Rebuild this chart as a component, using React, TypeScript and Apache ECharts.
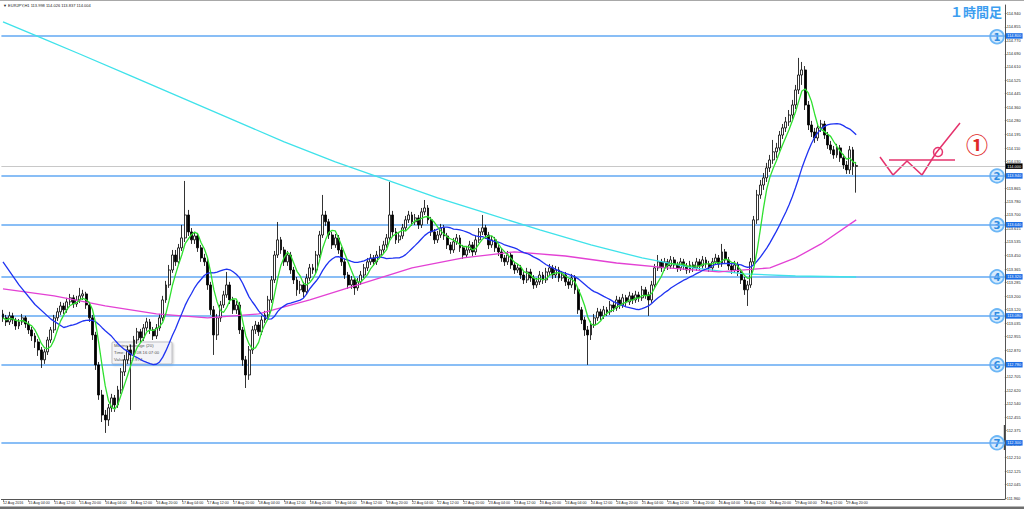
import React, { useEffect, useRef } from 'react';
import * as echarts from 'echarts';

// ---- time axis (H1 bars, weekends skipped) ----
const tradingDays = ['12 Aug', '15 Aug', '16 Aug', '17 Aug', '18 Aug', '19 Aug', '22 Aug', '23 Aug', '24 Aug', '25 Aug', '26 Aug', '29 Aug'];
const firstHour = 20;
const emptySlotsRight = 46;
const firstLabel = '12 Aug 2016';

// ---- OHLC ----
const opens = [
  113.092,113.068,113.043,113.080,113.055,113.018,113.043,113.068,113.030,112.994,
  112.957,112.920,112.871,112.810,112.859,112.932,112.994,113.068,113.105,113.141,
  113.117,113.166,113.191,113.153,113.178,113.203,113.215,113.147,113.068,112.963,
  112.779,112.594,112.471,112.441,112.515,112.576,112.533,112.625,112.736,112.810,
  112.871,112.840,112.932,112.982,112.945,113.006,113.043,112.994,112.957,113.006,
  113.068,113.178,113.270,113.362,113.454,113.412,113.498,113.559,113.700,113.596,
  113.547,113.571,113.498,113.436,113.412,113.270,113.117,112.963,113.068,113.147,
  113.209,113.270,113.178,113.117,113.147,112.994,112.810,112.717,112.871,112.994,
  113.024,112.982,113.055,113.086,113.178,113.301,113.454,113.547,113.485,113.412,
  113.454,113.362,113.301,113.240,113.270,113.228,113.313,113.375,113.362,113.454,
  113.577,113.700,113.658,113.577,113.516,113.559,113.485,113.412,113.331,113.270,
  113.301,113.252,113.289,113.331,113.375,113.412,113.436,113.412,113.454,113.485,
  113.516,113.559,113.700,113.596,113.547,113.571,113.621,113.670,113.700,113.658,
  113.682,113.639,113.719,113.743,113.670,113.596,113.547,113.577,113.621,113.571,
  113.516,113.485,113.535,113.559,113.498,113.454,113.485,113.516,113.473,113.547,
  113.596,113.621,113.577,113.516,113.547,113.498,113.473,113.436,113.412,113.454,
  113.393,113.362,113.375,113.331,113.301,113.350,113.313,113.270,113.289,113.331,
  113.301,113.350,113.375,113.331,113.362,113.313,113.331,113.289,113.270,113.313,
  113.240,113.117,113.055,112.994,112.963,113.024,113.068,113.105,113.080,113.117,
  113.105,113.147,113.129,113.178,113.147,113.191,113.166,113.203,113.178,113.209,
  113.191,113.240,113.209,113.178,113.270,113.375,113.412,113.375,113.412,113.387,
  113.424,113.393,113.375,113.412,113.387,113.362,113.393,113.375,113.412,113.387,
  113.424,113.399,113.375,113.412,113.436,113.399,113.473,113.424,113.387,113.362,
  113.393,113.350,113.301,113.240,113.270,113.412,113.670,113.823,113.884,113.928,
  113.989,114.038,114.088,114.112,114.191,114.235,114.272,114.314,114.376,114.468,
  114.560,114.591,114.376,114.253,114.210,114.173,114.235,114.259,114.191,114.130,
  114.100,114.069,114.112,114.051,114.007,113.977,114.100,113.998,
];
const highs = [
  113.117,113.086,113.105,113.099,113.068,113.061,113.092,113.080,113.049,113.012,
  112.975,112.938,112.889,112.877,112.951,113.012,113.086,113.129,113.166,113.160,
  113.191,113.215,113.209,113.203,113.252,113.240,113.228,113.166,113.086,112.982,
  112.797,112.625,112.502,112.539,112.601,112.594,112.650,112.760,112.840,112.895,
  112.902,112.957,113.006,113.000,113.030,113.068,113.061,113.012,113.030,113.092,
  113.203,113.295,113.393,113.485,113.485,113.522,113.639,113.909,113.731,113.620,
  113.596,113.590,113.516,113.461,113.430,113.289,113.141,113.092,113.172,113.234,
  113.350,113.289,113.197,113.172,113.166,113.012,112.834,112.895,113.018,113.049,
  113.043,113.080,113.111,113.203,113.325,113.479,113.657,113.565,113.504,113.479,
  113.473,113.381,113.319,113.295,113.289,113.338,113.399,113.399,113.479,113.602,
  113.823,113.725,113.676,113.596,113.583,113.577,113.504,113.430,113.350,113.325,
  113.319,113.313,113.356,113.399,113.436,113.461,113.454,113.479,113.510,113.541,
  113.583,113.903,113.725,113.620,113.596,113.645,113.694,113.725,113.719,113.706,
  113.700,113.743,113.792,113.761,113.688,113.614,113.602,113.645,113.639,113.590,
  113.534,113.559,113.583,113.577,113.516,113.510,113.541,113.534,113.571,113.620,
  113.700,113.639,113.596,113.571,113.565,113.516,113.491,113.454,113.479,113.473,
  113.412,113.399,113.393,113.350,113.375,113.369,113.331,113.313,113.356,113.350,
  113.375,113.399,113.393,113.387,113.381,113.356,113.350,113.307,113.338,113.331,
  113.258,113.135,113.074,113.018,113.049,113.092,113.129,113.123,113.141,113.135,
  113.172,113.166,113.203,113.197,113.215,113.209,113.228,113.221,113.234,113.228,
  113.264,113.258,113.228,113.295,113.399,113.454,113.430,113.436,113.430,113.448,
  113.442,113.412,113.436,113.430,113.405,113.418,113.412,113.436,113.430,113.448,
  113.442,113.418,113.436,113.461,113.454,113.522,113.491,113.442,113.405,113.418,
  113.412,113.369,113.319,113.295,113.436,113.694,113.854,113.915,113.958,114.020,
  114.069,114.161,114.143,114.216,114.259,114.302,114.345,114.407,114.499,114.665,
  114.640,114.615,114.400,114.278,114.235,114.259,114.284,114.278,114.210,114.155,
  114.124,114.137,114.130,114.075,114.032,114.124,114.118,114.026,
];
const lows = [
  113.043,113.018,113.024,113.030,112.994,112.999,113.024,113.006,112.969,112.926,
  112.883,112.834,112.760,112.785,112.840,112.914,112.975,113.049,113.086,113.092,
  113.099,113.147,113.129,113.135,113.160,113.178,113.123,113.043,112.932,112.748,
  112.564,112.428,112.361,112.404,112.490,112.490,112.515,112.601,112.711,112.785,
  112.502,112.822,112.908,112.920,112.926,112.988,112.969,112.932,112.938,112.988,
  113.049,113.160,113.252,113.344,113.387,113.393,113.479,113.534,113.571,113.522,
  113.522,113.473,113.412,113.387,113.240,113.086,112.840,112.932,113.043,113.129,
  113.191,113.153,113.092,113.092,112.969,112.773,112.637,112.687,112.846,112.969,
  112.957,112.963,113.037,113.068,113.160,113.282,113.436,113.461,113.387,113.387,
  113.338,113.276,113.203,113.215,113.191,113.209,113.295,113.338,113.344,113.436,
  113.559,113.633,113.553,113.491,113.498,113.461,113.387,113.307,113.246,113.246,
  113.209,113.234,113.270,113.313,113.356,113.393,113.387,113.393,113.436,113.467,
  113.498,113.541,113.571,113.522,113.528,113.553,113.602,113.651,113.633,113.639,
  113.614,113.620,113.700,113.645,113.571,113.522,113.528,113.559,113.547,113.491,
  113.461,113.467,113.516,113.473,113.430,113.436,113.467,113.448,113.454,113.528,
  113.577,113.553,113.491,113.498,113.473,113.448,113.412,113.387,113.393,113.369,
  113.338,113.344,113.307,113.276,113.282,113.289,113.246,113.252,113.270,113.276,
  113.282,113.331,113.307,113.313,113.289,113.295,113.264,113.246,113.252,113.215,
  113.092,113.030,112.957,112.779,112.932,113.006,113.049,113.055,113.061,113.080,
  113.086,113.105,113.111,113.123,113.129,113.141,113.147,113.153,113.160,113.166,
  113.172,113.185,113.080,113.160,113.252,113.356,113.350,113.356,113.362,113.369,
  113.369,113.350,113.356,113.362,113.338,113.344,113.350,113.356,113.362,113.369,
  113.375,113.350,113.356,113.393,113.375,113.381,113.399,113.362,113.338,113.344,
  113.325,113.276,113.209,113.141,113.252,113.393,113.645,113.799,113.854,113.903,
  113.964,114.014,114.051,114.094,114.167,114.210,114.247,114.290,114.351,114.443,
  114.499,114.345,114.222,114.179,114.143,114.155,114.210,114.167,114.106,114.075,
  114.045,114.051,114.026,113.983,113.952,113.952,113.946,113.837,
];
const closes = [
  113.068,113.043,113.080,113.055,113.018,113.043,113.068,113.030,112.994,112.957,
  112.920,112.871,112.810,112.859,112.932,112.994,113.068,113.105,113.141,113.117,
  113.166,113.191,113.153,113.178,113.203,113.215,113.147,113.068,112.963,112.779,
  112.594,112.471,112.441,112.515,112.576,112.533,112.625,112.736,112.810,112.871,
  112.840,112.932,112.982,112.945,113.006,113.043,112.994,112.957,113.006,113.068,
  113.178,113.270,113.362,113.454,113.412,113.498,113.559,113.700,113.596,113.547,
  113.571,113.498,113.436,113.412,113.270,113.117,112.963,113.068,113.147,113.209,
  113.270,113.178,113.117,113.147,112.994,112.810,112.717,112.871,112.994,113.024,
  112.982,113.055,113.086,113.178,113.301,113.454,113.547,113.485,113.412,113.454,
  113.362,113.301,113.240,113.270,113.228,113.313,113.375,113.362,113.454,113.577,
  113.700,113.658,113.577,113.516,113.559,113.485,113.412,113.331,113.270,113.301,
  113.252,113.289,113.331,113.375,113.412,113.436,113.412,113.454,113.485,113.516,
  113.559,113.700,113.596,113.547,113.571,113.621,113.670,113.700,113.658,113.682,
  113.639,113.719,113.743,113.670,113.596,113.547,113.577,113.621,113.571,113.516,
  113.485,113.535,113.559,113.498,113.454,113.485,113.516,113.473,113.547,113.596,
  113.621,113.577,113.516,113.547,113.498,113.473,113.436,113.412,113.454,113.393,
  113.362,113.375,113.331,113.301,113.350,113.313,113.270,113.289,113.331,113.301,
  113.350,113.375,113.331,113.362,113.313,113.331,113.289,113.270,113.313,113.240,
  113.117,113.055,112.994,112.963,113.024,113.068,113.105,113.080,113.117,113.105,
  113.147,113.129,113.178,113.147,113.191,113.166,113.203,113.178,113.209,113.191,
  113.240,113.209,113.178,113.270,113.375,113.412,113.375,113.412,113.387,113.424,
  113.393,113.375,113.412,113.387,113.362,113.393,113.375,113.412,113.387,113.424,
  113.399,113.375,113.412,113.436,113.399,113.473,113.424,113.387,113.362,113.393,
  113.350,113.301,113.240,113.270,113.412,113.670,113.823,113.884,113.928,113.989,
  114.038,114.088,114.112,114.191,114.235,114.272,114.314,114.376,114.468,114.560,
  114.591,114.376,114.253,114.210,114.173,114.235,114.259,114.191,114.130,114.100,
  114.069,114.112,114.051,114.007,113.977,114.100,113.998,114.004,
];

// ---- moving averages that need history before the window ----
const ma20LeadIn: [number, number][] = [[0, 113.412], [5, 113.27], [10, 113.15], [15, 113.06]];
const ma20Period = 20;
const maFastPeriod = 5;
const ma75Read: [number, number][] = [
  [0, 113.246], [16, 113.203], [32, 113.141], [48, 113.092], [64, 113.068], [80, 113.092],
  [96, 113.178], [112, 113.276], [128, 113.375], [144, 113.436], [160, 113.473], [176, 113.448],
  [192, 113.405], [208, 113.375], [224, 113.350], [240, 113.375], [248, 113.436], [256, 113.522], [267, 113.670],
];
const ma200Read: [number, number][] = [
  [0, 114.886], [12, 114.788], [24, 114.689], [40, 114.554], [56, 114.419], [72, 114.284],
  [88, 114.149], [104, 114.026], [120, 113.915], [136, 113.805], [152, 113.706], [168, 113.608],
  [184, 113.516], [200, 113.436], [216, 113.375], [232, 113.338], [248, 113.325], [267, 113.319],
];

// ---- horizontal levels, price line, axis ----
const levelValues = [114.795, 113.940, 113.640, 113.320, 113.080, 112.780, 112.300];
const levelNames = ['1', '2', '3', '4', '5', '6', '7'];
const lastPrice = 114.004;
const headerText = '▼ EURJPY,H1 113.998 114.026 113.837 114.004';
const titleText = '１時間足';
const tooltipLines = ['Moving Average (20)', 'Time: 2016.08.16 07:00', 'Value: 112.974'];
const yTickLabels = [
  114.940, 114.855, 114.770, 114.690, 114.610, 114.525, 114.445, 114.360, 114.280, 114.195,
  114.110, 114.030, 113.950, 113.865, 113.780, 113.700, 113.615, 113.535, 113.450, 113.365,
  113.285, 113.200, 113.120, 113.035, 112.955, 112.870, 112.790, 112.705, 112.620, 112.540,
  112.455, 112.375, 112.290, 112.210, 112.125, 112.045, 111.960,
];
const yMin = 111.955;
const yMax = 114.99;

function buildCategories(): string[] {
  const cats: string[] = [];
  tradingDays.forEach((d, k) => {
    for (let h = k === 0 ? firstHour : 0; h < 24; h++) {
      cats.push(`${d} ${String(h).padStart(2, '0')}:00`);
    }
  });
  for (let k = 0; k < emptySlotsRight; k++) cats.push('');
  return cats;
}

function movingAverage(period: number): [number, number][] {
  const out: [number, number][] = [];
  for (let i = 0; i < closes.length; i++) {
    const from = Math.max(0, i - period + 1);
    let s = 0;
    for (let j = from; j <= i; j++) s += closes[j];
    out.push([i, s / (i - from + 1)]);
  }
  return out;
}

export default function App() {
  const ref = useRef<HTMLDivElement>(null);
  useEffect(() => {
    document.body.style.margin = '0';
    const chart = echarts.init(ref.current!, null, { renderer: 'svg' });
    const categories = buildCategories();
    const nBars = closes.length;
    const candles = closes.map((c, i) => [opens[i], c, lows[i], highs[i]]);
    const maFast = movingAverage(maFastPeriod);
    const ma20Full = movingAverage(ma20Period).filter(([i]) => i >= ma20Period - 1);
    const ma20 = [...ma20LeadIn, ...ma20Full];
    const showLabel = (index: number) => index % 8 === 0 && index < nBars;
    const smallFont = 'Liberation Sans';

    const levelLabel = (bg: string) => ({
      show: true,
      position: 'end',
      distance: 1,
      formatter: (p: any) => Number(p.value).toFixed(3),
      backgroundColor: bg,
      color: '#fff',
      fontSize: 3.9,
      fontFamily: smallFont,
      padding: [1, 1.5, 0.5, 1.5],
    });

    chart.setOption({
      animation: false,
      backgroundColor: '#ffffff',
      grid: { left: 0, right: 19.2, top: 5, bottom: 10, containLabel: false },
      xAxis: {
        type: 'category',
        data: categories,
        boundaryGap: true,
        axisLine: { lineStyle: { color: '#555', width: 1 } },
        axisTick: { show: true, alignWithLabel: true, interval: (i: number) => showLabel(i), length: 3, lineStyle: { color: '#555', width: 0.6 } },
        axisLabel: {
          interval: (i: number) => showLabel(i),
          formatter: (v: string, i: number) => (i === 0 ? firstLabel : v),
          align: 'left',
          fontSize: 3.6,
          color: '#222',
          margin: 2,
          fontFamily: smallFont,
        },
        splitLine: { show: false },
      },
      yAxis: {
        type: 'value',
        position: 'right',
        min: yMin,
        max: yMax,
        axisLine: { show: true, lineStyle: { color: '#555', width: 1 } },
        axisTick: { show: true, customValues: yTickLabels, length: 2, lineStyle: { color: '#555', width: 0.6 } },
        axisLabel: {
          customValues: yTickLabels,
          formatter: (v: number) => v.toFixed(3),
          fontSize: 3.9,
          color: '#222',
          margin: 2,
          fontFamily: smallFont,
        },
        splitLine: { show: false },
      },
      series: [
        {
          type: 'candlestick',
          data: candles,
          barWidth: 2.4,
          z: 3,
          itemStyle: { color: '#ffffff', color0: '#000000', borderColor: '#000000', borderColor0: '#000000', borderWidth: 0.8 },
          markLine: {
            symbol: ['none', 'none'],
            silent: true,
            z: 1,
            data: [
              ...levelValues.map((v) => ({ yAxis: v, lineStyle: { color: '#62a8f3', width: 1.6, type: 'solid' }, label: levelLabel('#1d6fe6') })),
              { yAxis: lastPrice, lineStyle: { color: '#c8c8c8', width: 1, type: 'solid' }, label: levelLabel('#000000') },
            ],
          },
        },
        { type: 'line', name: 'MA200', data: ma200Read, showSymbol: false, symbol: 'none', z: 4, lineStyle: { color: '#3fe2ea', width: 1.3 } },
        { type: 'line', name: 'MA75', data: ma75Read, showSymbol: false, symbol: 'none', z: 4, lineStyle: { color: '#e341d4', width: 1.3 } },
        { type: 'line', name: 'MA20', data: ma20, showSymbol: false, symbol: 'none', z: 5, lineStyle: { color: '#1f33f2', width: 1.3 } },
        { type: 'line', name: 'MA5', data: maFast, showSymbol: false, symbol: 'none', z: 6, lineStyle: { color: '#2fe02f', width: 1.3 } },
      ],
    });

    const levelY = levelValues.map((v) => chart.convertToPixel({ yAxisIndex: 0 }, v) as number);
    const pink = '#e5336d';
    chart.setOption({
      graphic: [
        { type: 'rect', shape: { x: 0, y: 0, width: 1024, height: 1 }, style: { fill: '#a8a8a8' } },
        { type: 'rect', shape: { x: 0, y: 506.5, width: 1024, height: 2.5 }, style: { fill: '#6e6e6e' } },
        { type: 'rect', shape: { x: 1003.8, y: 425, width: 2, height: 25 }, style: { fill: '#444' } },
        { type: 'text', x: 3, y: 3.5, style: { text: headerText, fontSize: 4.0, fill: '#222', fontFamily: smallFont, verticalAlign: 'top' } },
        { type: 'text', x: 950, y: 5, style: { text: titleText, fontSize: 13, fontWeight: 'bold', fill: '#3d9ef0', fontFamily: 'Noto Sans CJK JP', verticalAlign: 'top' } },
        ...levelY.map((y, k) => ({
          type: 'group',
          x: 997,
          y,
          children: [
            { type: 'circle', shape: { cx: 0, cy: 0, r: 6.8 }, style: { fill: '#d6ebfd', stroke: '#6db7f6', lineWidth: 1.8 } },
            { type: 'text', style: { text: levelNames[k], x: 0, y: 0.5, align: 'center', verticalAlign: 'middle', fontSize: 10, fontWeight: 'bold', fill: '#2f8be2', fontFamily: 'DejaVu Sans' } },
          ],
        })),
        { type: 'polyline', shape: { points: [[880, 157], [893, 175], [907, 161], [922, 175], [936, 153], [960, 123]] }, style: { stroke: pink, lineWidth: 1.5, fill: 'none' } },
        { type: 'line', shape: { x1: 889, y1: 160, x2: 955, y2: 160 }, style: { stroke: pink, lineWidth: 1.5 } },
        { type: 'circle', shape: { cx: 938, cy: 152, r: 4.5 }, style: { stroke: pink, lineWidth: 1.5, fill: 'none' } },
        { type: 'text', x: 977, y: 143, style: { text: '①', fontSize: 22, fontWeight: 'bold', fill: '#e02828', fontFamily: 'Noto Sans CJK JP', align: 'center', verticalAlign: 'middle' } },
        {
          type: 'group',
          x: 112,
          y: 342,
          children: [
            { type: 'rect', shape: { x: 0, y: 0, width: 60, height: 22, r: 1 }, style: { fill: '#f4f4f7', stroke: '#a9a9b0', lineWidth: 0.7, shadowBlur: 2, shadowColor: 'rgba(0,0,0,0.25)', shadowOffsetX: 1, shadowOffsetY: 1 } },
            ...tooltipLines.map((t, k) => ({ type: 'text', x: 2, y: 1.5 + k * 7, style: { text: t, fontSize: 4.3, fill: '#555', fontFamily: smallFont, verticalAlign: 'top' } })),
          ],
        },
      ],
    });

    return () => chart.dispose();
  }, []);
  return <div ref={ref} style={{ width: 1024, height: 509 }} />;
}
